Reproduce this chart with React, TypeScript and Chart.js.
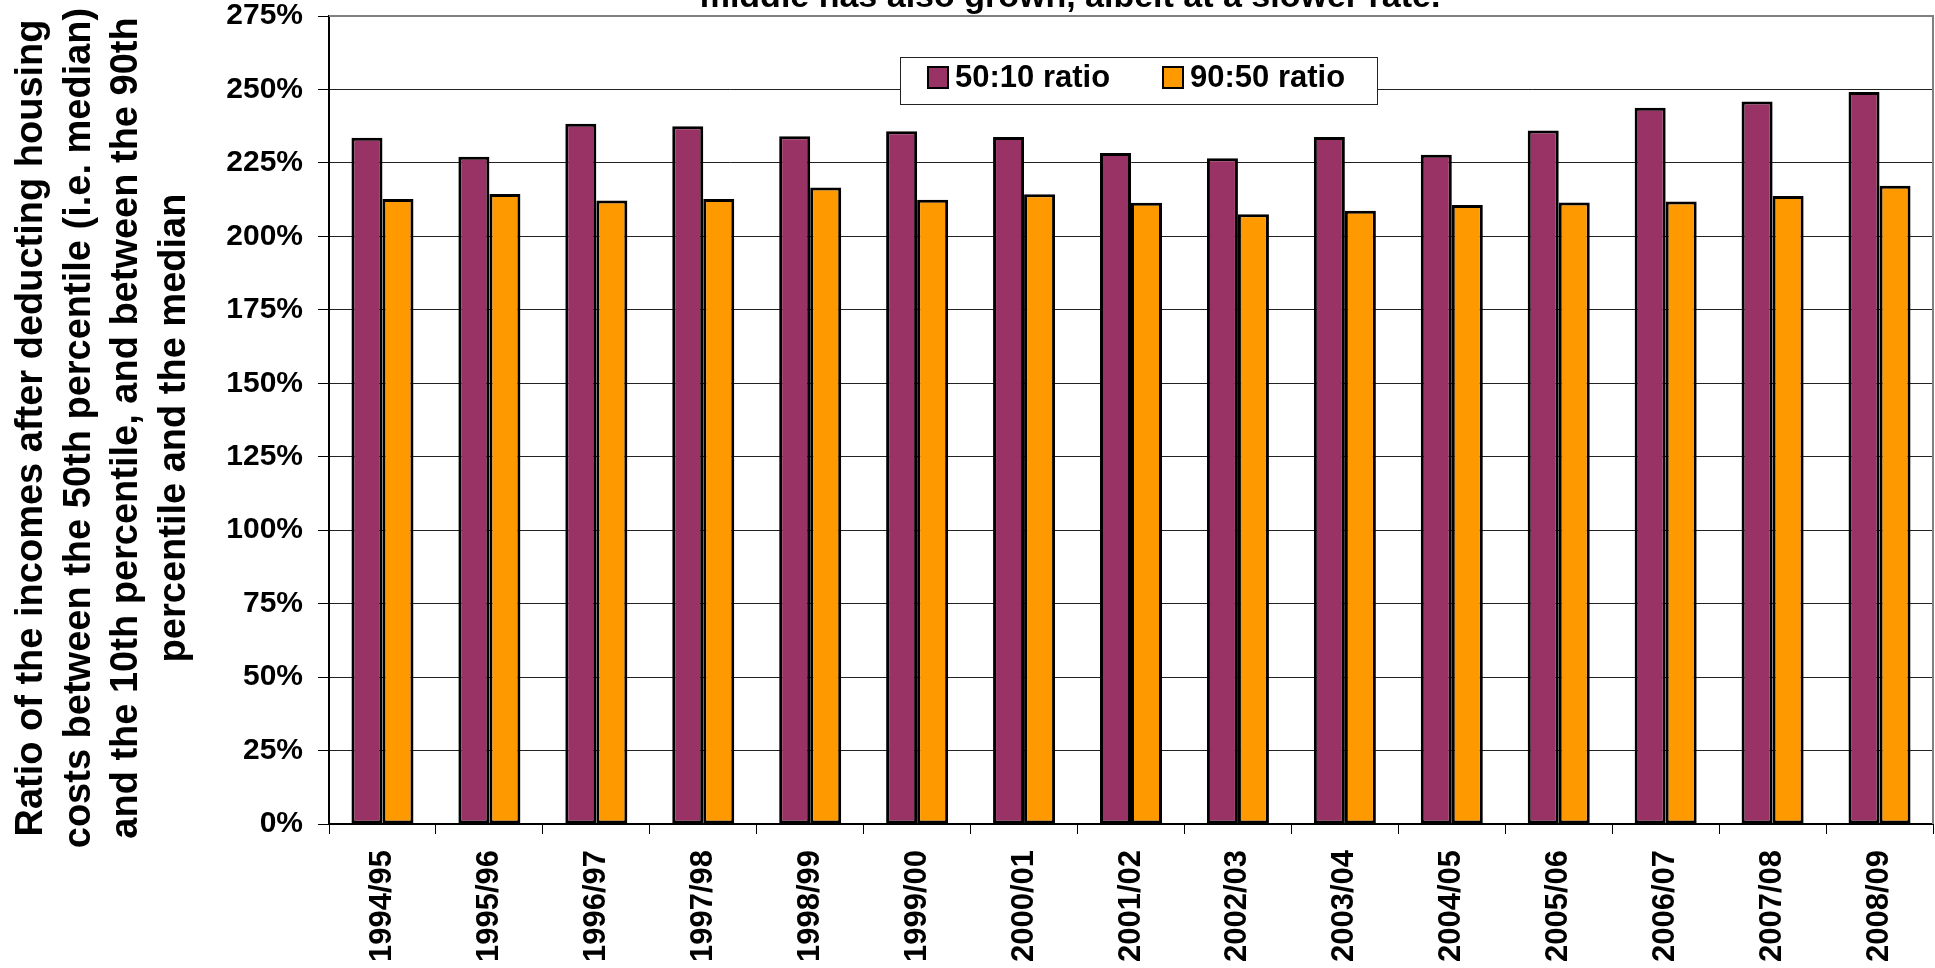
import React, { useEffect, useRef } from "react";
import { Chart, registerables } from "chart.js";

Chart.register(...registerables);

const categories = [
  "1994/95", "1995/96", "1996/97", "1997/98", "1998/99", "1999/00", "2000/01",
  "2001/02", "2002/03", "2003/04", "2004/05", "2005/06", "2006/07", "2007/08", "2008/09",
];
const ratio5010 = [233.6, 227.1, 238.3, 237.5, 234.1, 235.8, 233.8, 228.4, 226.6, 233.8, 227.8, 236.0, 243.8, 245.9, 249.1];
const ratio9050 = [212.7, 214.4, 212.2, 212.7, 216.6, 212.5, 214.3, 211.4, 207.5, 208.7, 210.7, 211.5, 211.9, 213.7, 217.2];
const seriesLabels = ["50:10 ratio", "90:50 ratio"];
const seriesColors = ["#993366", "#FF9900"];
const yMin = 0;
const yMax = 275;
const yStep = 25;
const titleText = "middle has also grown, albeit at a slower rate.";
const yAxisTitle = [
  "Ratio of the incomes after deducting housing",
  "costs between the 50th percentile (i.e. median)",
  "and the 10th percentile, and between the 90th",
  "percentile and the median",
];

const FONT = '"Liberation Sans", Arial, Helvetica, sans-serif';

const framePlugin = {
  id: "frameAndTitle",
  afterDraw(chart: any) {
    const ctx = chart.ctx;
    const a = chart.chartArea;
    ctx.save();
    // gray top and right border of the plot area
    ctx.strokeStyle = "#808080";
    ctx.lineWidth = 2;
    ctx.beginPath();
    ctx.moveTo(a.left, a.top);
    ctx.lineTo(a.right, a.top);
    ctx.lineTo(a.right, a.bottom);
    ctx.stroke();

    // y-axis title, four rotated lines
    ctx.fillStyle = "#000";
    ctx.font = `bold 38px ${FONT}`;
    ctx.textAlign = "center";
    ctx.textBaseline = "alphabetic";
    yAxisTitle.forEach((line, i) => {
      ctx.save();
      ctx.translate(42 + 47.5 * i, 428);
      ctx.rotate(-Math.PI / 2);
      ctx.fillText(line, 0, 0);
      ctx.restore();
    });

    // title (second line, partly cut off at the top)
    ctx.font = `bold 34px ${FONT}`;
    ctx.textAlign = "center";
    ctx.textBaseline = "alphabetic";
    ctx.fillText(titleText, 1070, 7);

    // legend box inside the plot
    const lx = 900, ly = 57, lw = 477, lh = 47;
    ctx.fillStyle = "#fff";
    ctx.fillRect(lx, ly, lw, lh);
    ctx.strokeStyle = "#222";
    ctx.lineWidth = 1;
    ctx.strokeRect(lx + 0.5, ly + 0.5, lw, lh);
    const itemX = [928, 1163];
    chart.data.datasets.forEach((ds: any, i: number) => {
      const x = itemX[i];
      ctx.fillStyle = ds.backgroundColor;
      ctx.fillRect(x, 67, 20, 21);
      ctx.strokeStyle = "#000";
      ctx.lineWidth = 2;
      ctx.strokeRect(x, 67, 20, 21);
      ctx.fillStyle = "#000";
      ctx.font = `bold 31px ${FONT}`;
      ctx.textAlign = "left";
      ctx.textBaseline = "middle";
      ctx.fillText(ds.label, x + 27, 78);
    });
    ctx.restore();
  },
};

export default function App() {
  const canvasRef = useRef<HTMLCanvasElement | null>(null);

  useEffect(() => {
    const canvas = canvasRef.current;
    if (!canvas) return;
    const chart = new Chart(canvas, {
      type: "bar",
      data: {
        labels: categories,
        datasets: [
          {
            label: seriesLabels[0],
            data: ratio5010,
            backgroundColor: seriesColors[0],
            borderColor: "#000",
            borderWidth: 3,
            borderSkipped: false,
            categoryPercentage: 0.58,
            barPercentage: 1.0,
          },
          {
            label: seriesLabels[1],
            data: ratio9050,
            backgroundColor: seriesColors[1],
            borderColor: "#000",
            borderWidth: 3,
            borderSkipped: false,
            categoryPercentage: 0.58,
            barPercentage: 1.0,
          },
        ],
      },
      options: {
        responsive: false,
        animation: false,
        layout: { padding: { top: 16, right: 2, bottom: 0, left: 0 } },
        plugins: {
          legend: { display: false },
          title: { display: false },
          tooltip: { enabled: false },
        },
        scales: {
          x: {
            offset: true,
            grid: {
              display: true,
              offset: true,
              drawOnChartArea: false,
              drawTicks: true,
              tickLength: 10,
              color: "#000",
              tickColor: "#000",
            },
            border: { display: true, color: "#000", width: 2 },
            ticks: {
              autoSkip: false,
              minRotation: 90,
              maxRotation: 90,
              padding: 16,
              color: "#000",
              font: { family: FONT, size: 31, weight: "bold" },
            },
            afterFit(scale: any) {
              scale.height = 144;
              scale.paddingLeft = 0;
              scale.paddingRight = 0;
            },
          },
          y: {
            min: yMin,
            max: yMax,
            grid: {
              color: "#222",
              lineWidth: 1,
              drawTicks: true,
              tickLength: 11,
              tickColor: "#000",
            },
            border: { display: true, color: "#000", width: 2 },
            ticks: {
              stepSize: yStep,
              padding: 15,
              color: "#000",
              font: { family: FONT, size: 30, weight: "bold" },
              callback: (v: any) => `${v}%`,
            },
            title: { display: false },
            afterFit(scale: any) {
              scale.width = 329;
              scale.paddingTop = 0;
              scale.paddingBottom = 0;
            },
          },
        },
      } as any,
      plugins: [framePlugin],
    });
    return () => chart.destroy();
  }, []);

  return (
    <div style={{ position: "absolute", left: 0, top: 0, width: 1935, height: 968, background: "#fff" }}>
      <canvas ref={canvasRef} width={1935} height={968} style={{ display: "block" }} />
    </div>
  );
}
